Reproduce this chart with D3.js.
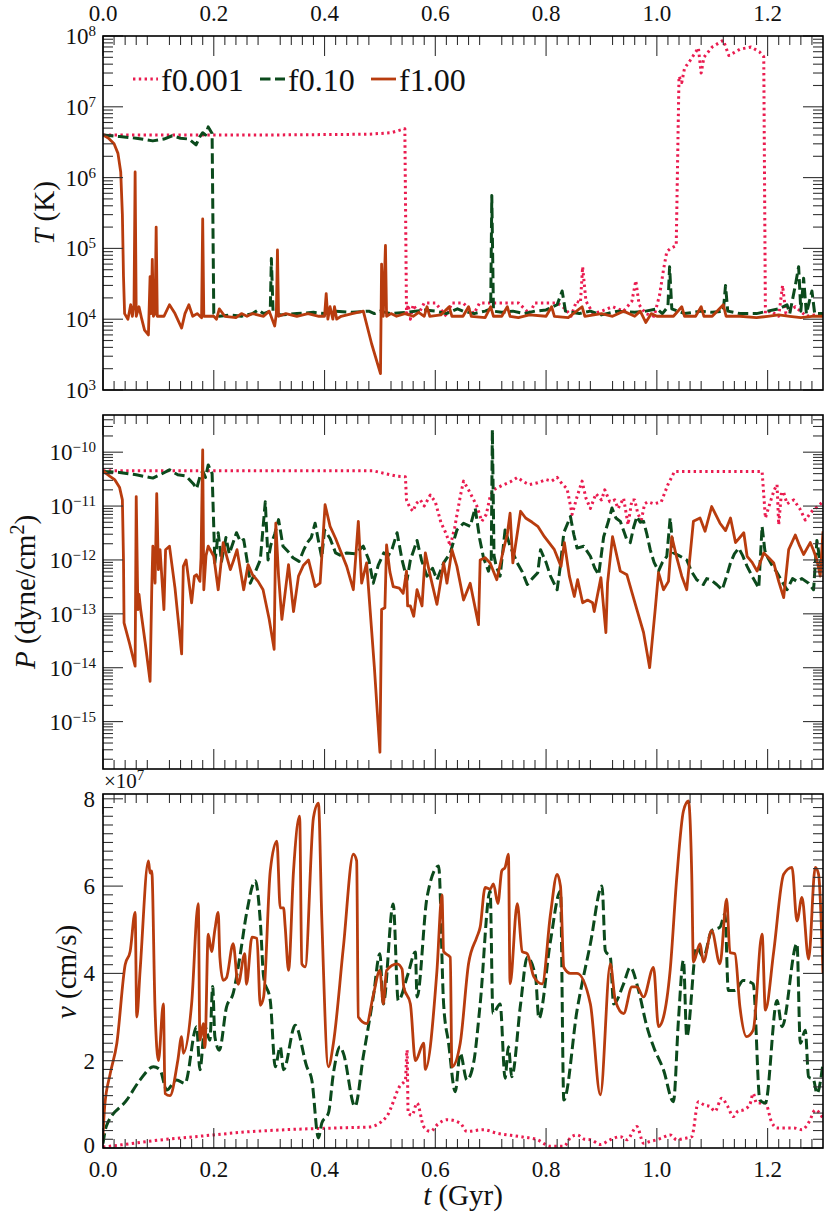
<!DOCTYPE html>
<html><head><meta charset="utf-8">
<script src="https://cdn.jsdelivr.net/npm/d3@7/dist/d3.min.js"></script>
<style>
body{margin:0;background:#fff;overflow:hidden;font-family:"Liberation Serif";}
svg{display:block}
svg text{font-family:"Liberation Serif";}
</style>
</head><body><svg id="c" width="831" height="1219"></svg>
<script>
// ---------------- data ----------------
const seriesNames = ["f0.001", "f0.10", "f1.00"];
const xTickLabels = ["0.0","0.2","0.4","0.6","0.8","1.0","1.2"];
const vTickLabels = ["0","2","4","6","8"];

// Temperature T (K) vs t (Gyr)
const T_f0001 = [[0,4.0e6],[0.1,4.0e6],[0.2,4.0e6],[0.3,4.0e6],[0.4,4.05e6],[0.48,4.1e6],[0.52,4.3e6],[0.545,4.9e6],[0.548,1.2e4],[0.551,1.6e4],[0.555,1.0e4],[0.56,1.6e4],[0.57,1.2e4],[0.58,1.7e4],[0.6,1.7e4],[0.62,1.1e4],[0.63,1.7e4],[0.65,1.7e4],[0.67,1.2e4],[0.68,1.7e4],[0.7,1.7e4],[0.75,1.7e4],[0.77,1.2e4],[0.78,1.7e4],[0.8,1.7e4],[0.82,1.7e4],[0.835,1.4e4],[0.845,1.1e4],[0.855,1.8e4],[0.862,1.7e4],[0.866,5.5e4],[0.872,1.8e4],[0.885,1.2e4],[0.9,1.3e4],[0.92,1.5e4],[0.94,1.3e4],[0.955,1.8e4],[0.962,3.5e4],[0.968,1.6e4],[0.98,1.2e4],[0.995,1.1e4],[1.005,2.2e4],[1.012,5e4],[1.018,9e4],[1.025,1.0e5],[1.035,1.1e5],[1.04,2.7e7],[1.045,2.2e7],[1.05,3.5e7],[1.06,4.5e7],[1.075,6.8e7],[1.08,3e7],[1.085,5e7],[1.1,7e7],[1.12,8.7e7],[1.13,5.3e7],[1.15,6.5e7],[1.17,7e7],[1.185,6e7],[1.193,5.1e7],[1.196,1.2e4],[1.205,1.3e4],[1.22,1.1e4],[1.227,3e4],[1.233,1.2e4],[1.25,1.5e4],[1.27,1.1e4],[1.3,1.2e4]];
const T_f010 = [[0,4.0e6],[0.03,3.8e6],[0.06,3.6e6],[0.09,3.3e6],[0.11,3.5e6],[0.125,3.9e6],[0.14,3.6e6],[0.155,3.5e6],[0.168,2.9e6],[0.175,3.8e6],[0.18,4.3e6],[0.185,4.0e6],[0.19,5.2e6],[0.197,4.2e6],[0.2,1.2e4],[0.21,1.1e4],[0.23,1.15e4],[0.25,1.1e4],[0.27,1.2e4],[0.28,1.35e4],[0.29,1.2e4],[0.302,1.3e4],[0.304,7.2e4],[0.307,1.3e4],[0.32,1.15e4],[0.35,1.2e4],[0.38,1.25e4],[0.4,1.2e4],[0.42,1.3e4],[0.45,1.25e4],[0.48,1.3e4],[0.49,1.2e4],[0.5,1.3e4],[0.52,1.2e4],[0.55,1.25e4],[0.58,1.35e4],[0.6,1.3e4],[0.62,1.2e4],[0.64,1.4e4],[0.65,1.3e4],[0.67,1.2e4],[0.69,1.3e4],[0.7,1.4e4],[0.702,5.6e5],[0.705,1.3e4],[0.72,1.25e4],[0.74,1.3e4],[0.76,1.2e4],[0.78,1.3e4],[0.8,1.35e4],[0.82,1.6e4],[0.829,2.5e4],[0.835,1.3e4],[0.86,1.2e4],[0.88,1.3e4],[0.9,1.15e4],[0.93,1.3e4],[0.96,1.25e4],[0.98,1.3e4],[1.0,1.4e4],[1.01,1.2e4],[1.02,1.5e4],[1.023,5.5e4],[1.027,1.4e4],[1.05,1.2e4],[1.08,1.3e4],[1.1,1.25e4],[1.12,1.3e4],[1.124,3e4],[1.128,1.3e4],[1.15,1.2e4],[1.18,1.2e4],[1.2,1.3e4],[1.22,1.4e4],[1.235,1.6e4],[1.24,1.2e4],[1.25,3e4],[1.256,5.5e4],[1.26,1.3e4],[1.265,3.8e4],[1.27,1.2e4],[1.28,2.5e4],[1.285,1.2e4],[1.3,1.2e4]];
const T_f100 = [[0,4.0e6],[0.01,3.6e6],[0.02,3.0e6],[0.027,2.2e6],[0.032,1.2e6],[0.035,3e5],[0.037,4e4],[0.039,1.2e4],[0.045,1.0e4],[0.05,1.6e4],[0.053,1.1e4],[0.056,1.6e4],[0.058,1.2e6],[0.06,1.1e4],[0.065,1.5e4],[0.07,1.0e4],[0.075,7e3],[0.082,6e3],[0.085,4e4],[0.087,1.2e4],[0.089,7e4],[0.091,1.1e4],[0.094,1.2e4],[0.096,2e5],[0.098,1.1e4],[0.11,1.1e4],[0.12,1.6e4],[0.13,1.2e4],[0.142,7.5e3],[0.148,1.2e4],[0.155,1.6e4],[0.162,1.1e4],[0.17,1.2e4],[0.178,1.05e4],[0.18,2.6e5],[0.182,1.1e4],[0.2,1.1e4],[0.205,1.0e4],[0.21,1.4e4],[0.22,1.1e4],[0.24,1.05e4],[0.25,1.2e4],[0.26,1.1e4],[0.27,1.2e4],[0.29,1.1e4],[0.3,1.3e4],[0.31,8e3],[0.313,1.2e4],[0.315,9.5e4],[0.317,1.1e4],[0.33,1.2e4],[0.35,1.1e4],[0.37,1.2e4],[0.39,1.1e4],[0.4,1.1e4],[0.403,2.3e4],[0.406,1.0e4],[0.41,1.5e4],[0.415,1.0e4],[0.418,1.5e4],[0.422,1.0e4],[0.43,1.1e4],[0.45,1.2e4],[0.47,1.3e4],[0.485,4.5e3],[0.501,1.7e3],[0.503,6e4],[0.506,1.1e4],[0.51,1.1e5],[0.512,1.1e4],[0.52,1.2e4],[0.53,1.1e4],[0.545,1.2e4],[0.56,1.1e4],[0.57,1.25e4],[0.58,1.1e4],[0.585,1.5e4],[0.59,1.1e4],[0.61,1.15e4],[0.625,1.5e4],[0.63,1.1e4],[0.65,1.1e4],[0.66,1.5e4],[0.665,1.1e4],[0.69,1.05e4],[0.7,1.5e4],[0.705,1.1e4],[0.72,1.1e4],[0.73,1.5e4],[0.735,1.1e4],[0.75,1.05e4],[0.77,1.15e4],[0.8,1.1e4],[0.81,1.5e4],[0.815,1.1e4],[0.84,1.05e4],[0.865,1.5e4],[0.87,1.1e4],[0.9,1.2e4],[0.92,1.1e4],[0.94,1.3e4],[0.96,1.1e4],[0.97,1.3e4],[0.98,9e3],[0.99,1.2e4],[1.0,1.1e4],[1.03,1.1e4],[1.045,1.5e4],[1.05,1.1e4],[1.07,1.1e4],[1.08,1.5e4],[1.085,1.1e4],[1.1,1.1e4],[1.12,1.6e4],[1.125,1.1e4],[1.15,1.1e4],[1.18,1.05e4],[1.2,1.1e4],[1.22,1.15e4],[1.24,1.1e4],[1.26,1.05e4],[1.28,1.1e4],[1.3,1.1e4]];

// Pressure P (dyne/cm^2)
const P_f0001 = [[0,4.5e-11],[0.2,4.5e-11],[0.4,4.5e-11],[0.488,4.5e-11],[0.51,4.0e-11],[0.53,3.6e-11],[0.546,3.5e-11],[0.548,1.3e-11],[0.551,1.1e-11],[0.555,9e-12],[0.56,8e-12],[0.565,1.1e-11],[0.573,1.3e-11],[0.58,1.0e-11],[0.591,1.6e-11],[0.6,1.2e-11],[0.61,5e-12],[0.62,3e-12],[0.627,1.8e-12],[0.635,4e-12],[0.645,1.5e-11],[0.651,2.9e-11],[0.66,2.0e-11],[0.675,1.0e-11],[0.684,5.2e-12],[0.692,7e-12],[0.699,1.5e-11],[0.705,2.0e-11],[0.72,2.4e-11],[0.735,2.8e-11],[0.748,3.4e-11],[0.76,2.8e-11],[0.77,2.5e-11],[0.785,2.7e-11],[0.8,3.1e-11],[0.81,2.9e-11],[0.82,3.4e-11],[0.83,2.5e-11],[0.838,2.1e-11],[0.847,7e-12],[0.856,1.5e-11],[0.865,2.9e-11],[0.872,1.4e-11],[0.88,9e-12],[0.89,1.7e-11],[0.9,1.3e-11],[0.906,2.0e-11],[0.915,1.2e-11],[0.924,1.3e-11],[0.93,9e-12],[0.94,1.4e-11],[0.948,4.5e-12],[0.955,1.3e-11],[0.96,1.3e-11],[0.966,7e-12],[0.972,5.5e-12],[0.978,1.1e-11],[0.984,1.2e-11],[0.995,1.1e-11],[1.008,1.2e-11],[1.02,2.5e-11],[1.032,4.4e-11],[1.1,4.4e-11],[1.19,4.4e-11],[1.196,6e-12],[1.205,1.2e-11],[1.212,2.0e-11],[1.217,2.5e-11],[1.22,4.5e-12],[1.225,1.8e-11],[1.229,1.8e-11],[1.235,1.1e-11],[1.247,1.3e-11],[1.258,9e-12],[1.268,5.5e-12],[1.28,8e-12],[1.3,1.2e-11]];
const P_f010 = [[0,4.4e-11],[0.03,4.2e-11],[0.06,3.8e-11],[0.09,3.3e-11],[0.105,3.9e-11],[0.12,4.7e-11],[0.135,3.8e-11],[0.15,3.6e-11],[0.163,2.6e-11],[0.169,2.1e-11],[0.175,3.5e-11],[0.18,4.5e-11],[0.185,3.4e-11],[0.19,5.8e-11],[0.197,4.0e-11],[0.202,8.8e-13],[0.208,3.2e-12],[0.214,9.4e-13],[0.222,2.6e-12],[0.228,1.3e-12],[0.235,2.1e-12],[0.241,3.2e-12],[0.248,2.2e-12],[0.254,2.4e-12],[0.26,1.0e-12],[0.266,3.7e-13],[0.275,6e-13],[0.284,1.0e-12],[0.293,1.2e-11],[0.298,1.0e-12],[0.303,1.9e-12],[0.31,3.0e-12],[0.317,5.6e-12],[0.325,1.8e-12],[0.335,1.4e-12],[0.343,1.1e-12],[0.354,9.4e-13],[0.362,1.5e-12],[0.369,2.1e-12],[0.376,2.6e-12],[0.383,4.8e-12],[0.39,2.0e-12],[0.395,1.1e-12],[0.40,3.6e-12],[0.41,2.5e-12],[0.42,1.35e-12],[0.43,1.2e-12],[0.44,1.35e-12],[0.455,1.3e-12],[0.47,1.8e-12],[0.48,1.0e-12],[0.488,3.7e-13],[0.497,8e-13],[0.507,1.35e-12],[0.515,1.2e-12],[0.522,1.6e-12],[0.531,3.2e-12],[0.54,1.0e-12],[0.549,4.3e-13],[0.555,1.0e-12],[0.567,2.3e-12],[0.575,1.0e-12],[0.585,5e-13],[0.595,7e-13],[0.603,4.3e-13],[0.615,8.8e-13],[0.627,1.35e-12],[0.639,3.6e-12],[0.651,4.8e-12],[0.663,4.2e-12],[0.672,9.2e-12],[0.68,2.5e-12],[0.687,1.1e-12],[0.696,6.2e-13],[0.701,1e-12],[0.703,2.6e-10],[0.706,1.2e-12],[0.71,7.6e-13],[0.717,5e-13],[0.726,3.6e-12],[0.735,1.8e-12],[0.748,8.8e-13],[0.757,6e-13],[0.766,3.5e-13],[0.775,4.5e-13],[0.785,5.8e-13],[0.79,1.55e-12],[0.8,9e-13],[0.808,5e-13],[0.82,2.8e-13],[0.826,8e-13],[0.832,3.2e-12],[0.844,6.4e-12],[0.85,3e-12],[0.856,1.66e-12],[0.868,1.8e-12],[0.88,1.17e-12],[0.888,7e-13],[0.895,5.3e-13],[0.904,2.7e-12],[0.912,5e-12],[0.919,9.2e-12],[0.926,6e-12],[0.934,5.2e-12],[0.945,2.5e-12],[0.952,2.1e-12],[0.958,4e-12],[0.964,6.4e-12],[0.97,5e-12],[0.976,5.2e-12],[0.982,3e-12],[0.988,1.55e-12],[0.995,9e-13],[1.003,6.2e-13],[1.01,9e-13],[1.018,1.17e-12],[1.024,6e-12],[1.03,1.35e-12],[1.04,1.2e-12],[1.054,1.0e-12],[1.063,6e-13],[1.072,4.3e-13],[1.084,3.5e-13],[1.09,4.5e-13],[1.097,4.3e-13],[1.108,3.5e-13],[1.118,2.8e-13],[1.126,5e-13],[1.133,8.8e-13],[1.14,1.3e-12],[1.148,1.66e-12],[1.155,1.2e-12],[1.163,7.6e-13],[1.172,5e-13],[1.184,3e-13],[1.19,4.2e-12],[1.195,1.5e-12],[1.199,1.17e-12],[1.208,8e-13],[1.217,5.8e-13],[1.226,4e-13],[1.235,2.8e-13],[1.245,4.5e-13],[1.253,4e-13],[1.262,4.5e-13],[1.274,3.7e-13],[1.283,2.8e-13],[1.289,2.3e-12],[1.295,9e-13],[1.3,1.17e-12]];
const P_f100 = [[0,4.5e-11],[0.012,3.6e-11],[0.021,3.1e-11],[0.03,2.2e-11],[0.035,1.3e-11],[0.037,1e-12],[0.038,6.8e-14],[0.048,2.8e-14],[0.058,1.07e-14],[0.06,1.5e-11],[0.063,1.2e-13],[0.065,2.3e-13],[0.068,1.2e-13],[0.076,3e-14],[0.085,5.6e-15],[0.088,2.8e-13],[0.09,1.8e-12],[0.094,3.7e-13],[0.097,1.7e-11],[0.1,6.6e-13],[0.103,1.55e-12],[0.11,1.2e-13],[0.113,1.55e-12],[0.12,1.8e-12],[0.13,3e-13],[0.142,1.8e-14],[0.145,7.6e-13],[0.15,1.0e-12],[0.16,1.6e-13],[0.165,5e-13],[0.169,5.3e-13],[0.175,4e-13],[0.177,1.1e-12],[0.18,1.1e-10],[0.182,2.8e-13],[0.186,1.2e-12],[0.19,1.8e-12],[0.2,1.17e-12],[0.208,2.8e-13],[0.217,2.1e-12],[0.223,1.2e-12],[0.23,6.6e-13],[0.236,1.0e-12],[0.242,1.55e-12],[0.254,2.8e-13],[0.262,8.2e-13],[0.27,5.3e-13],[0.28,4e-13],[0.289,2.8e-13],[0.3,8e-14],[0.309,2.2e-14],[0.312,4.8e-12],[0.317,5e-13],[0.323,7.9e-14],[0.335,8.2e-13],[0.344,1.1e-13],[0.353,5e-13],[0.362,8e-13],[0.371,1.0e-12],[0.383,3.2e-13],[0.392,3.7e-13],[0.401,1.06e-11],[0.41,4.2e-12],[0.42,2.5e-12],[0.428,1.55e-12],[0.44,7.6e-13],[0.452,2.8e-13],[0.461,5.2e-12],[0.467,3.7e-13],[0.476,8.8e-13],[0.49,1e-14],[0.5,2.7e-16],[0.503,1.2e-13],[0.509,1.3e-13],[0.512,1.9e-12],[0.518,6e-13],[0.524,3.2e-13],[0.535,3e-13],[0.542,2.4e-13],[0.548,6.2e-13],[0.55,1.4e-13],[0.555,1.4e-13],[0.561,9e-14],[0.567,2.8e-13],[0.576,1.4e-13],[0.582,1.35e-12],[0.591,5e-13],[0.603,1.5e-13],[0.615,8.8e-13],[0.621,3.7e-13],[0.63,1.55e-12],[0.639,7.6e-13],[0.651,1.8e-13],[0.663,3.7e-13],[0.678,6.3e-14],[0.681,1e-12],[0.69,1.1e-12],[0.699,8.8e-13],[0.711,4.3e-13],[0.723,1.55e-12],[0.73,3e-12],[0.735,7.4e-12],[0.74,8.8e-13],[0.754,8e-12],[0.763,6e-12],[0.775,5e-12],[0.785,4.2e-12],[0.797,2.7e-12],[0.815,1.55e-12],[0.827,7.6e-13],[0.833,2.1e-12],[0.842,5e-13],[0.851,2.1e-13],[0.857,4.3e-13],[0.866,1.6e-13],[0.875,1.8e-13],[0.884,1.6e-13],[0.887,1.1e-13],[0.899,4.7e-13],[0.908,4.5e-14],[0.911,3.7e-13],[0.92,2.7e-12],[0.934,6.2e-13],[0.946,5.3e-13],[0.955,2.5e-13],[0.964,1.2e-13],[0.976,4.5e-14],[0.987,1e-14],[0.997,1.2e-13],[1.003,5.8e-13],[1.012,2.8e-13],[1.021,4e-13],[1.027,2.7e-12],[1.036,1.1e-12],[1.045,5e-13],[1.054,2.8e-13],[1.066,5.2e-12],[1.078,6e-12],[1.087,3.4e-12],[1.099,9.8e-12],[1.114,4.8e-12],[1.124,3.5e-12],[1.133,6e-12],[1.142,2.1e-12],[1.157,3.2e-12],[1.163,1.17e-12],[1.172,9e-13],[1.181,6.2e-13],[1.193,1.35e-12],[1.202,1.1e-12],[1.211,8.8e-13],[1.22,4e-13],[1.229,2e-13],[1.238,1.55e-12],[1.25,2.9e-12],[1.258,1.8e-12],[1.265,1.26e-12],[1.277,2.1e-12],[1.283,1.5e-12],[1.289,1e-12],[1.295,5e-13],[1.3,3.4e-12]];

// Velocity v (units of 1e7 cm/s)
const V_f0001 = [[0,0.02],[0.05,0.1],[0.1,0.18],[0.15,0.24],[0.2,0.3],[0.25,0.36],[0.3,0.4],[0.35,0.43],[0.4,0.45],[0.45,0.47],[0.48,0.48],[0.512,0.72],[0.537,1.44],[0.546,1.56],[0.549,2.24],[0.551,0.8],[0.558,0.75],[0.567,1.03],[0.579,0.49],[0.591,0.38],[0.605,0.55],[0.621,0.65],[0.645,0.57],[0.657,0.38],[0.687,0.42],[0.711,0.34],[0.754,0.26],[0.784,0.19],[0.808,0.04],[0.832,0.04],[0.845,0.25],[0.856,0.3],[0.87,0.2],[0.88,0.19],[0.898,0.08],[0.916,0.19],[0.934,0.26],[0.946,0.19],[0.964,0.49],[0.976,0.11],[0.988,0.15],[1.0,0.19],[1.012,0.25],[1.024,0.3],[1.036,0.19],[1.05,0.22],[1.063,0.26],[1.075,1.06],[1.086,0.98],[1.096,0.95],[1.105,0.84],[1.117,1.14],[1.128,0.95],[1.138,0.72],[1.147,0.85],[1.156,0.87],[1.168,1.0],[1.174,1.25],[1.18,1.03],[1.196,1.03],[1.207,0.6],[1.217,0.46],[1.235,0.46],[1.247,0.46],[1.262,0.42],[1.275,0.6],[1.286,0.87],[1.3,0.68]];
const V_f010 = [[0,0.1],[0.006,0.5],[0.043,1.1],[0.067,1.56],[0.091,1.86],[0.103,1.79],[0.115,1.33],[0.133,1.56],[0.148,1.48],[0.169,2.78],[0.175,1.79],[0.184,2.78],[0.193,2.47],[0.198,3.7],[0.202,2.55],[0.21,2.24],[0.223,3.23],[0.235,3.54],[0.247,4.37],[0.259,5.36],[0.275,6.12],[0.284,5.2],[0.29,3.92],[0.302,3.38],[0.311,1.86],[0.32,2.32],[0.326,1.79],[0.347,2.81],[0.368,1.86],[0.377,1.56],[0.389,0.23],[0.395,0.57],[0.407,0.8],[0.416,1.71],[0.428,2.32],[0.434,2.17],[0.455,0.95],[0.47,2.1],[0.488,3.46],[0.5,4.45],[0.506,3.3],[0.524,5.59],[0.533,3.38],[0.551,4.0],[0.564,4.49],[0.567,3.46],[0.585,5.74],[0.606,6.46],[0.615,3.3],[0.624,2.4],[0.636,1.29],[0.645,2.17],[0.657,1.56],[0.669,1.94],[0.681,3.3],[0.699,5.89],[0.704,3.08],[0.717,3.3],[0.726,1.6],[0.732,2.32],[0.738,1.63],[0.754,3.3],[0.766,4.37],[0.781,3.92],[0.787,2.97],[0.808,4.75],[0.826,5.89],[0.832,1.1],[0.856,3.16],[0.88,4.68],[0.901,6.0],[0.907,4.52],[0.916,4.37],[0.922,3.3],[0.94,3.76],[0.952,4.14],[0.967,3.61],[0.982,2.78],[0.994,2.32],[1.012,1.79],[1.03,1.06],[1.039,2.93],[1.048,4.3],[1.054,2.55],[1.072,4.6],[1.084,4.37],[1.099,4.98],[1.114,5.06],[1.123,5.36],[1.129,3.61],[1.141,3.61],[1.156,3.84],[1.174,3.76],[1.186,1.1],[1.196,1.03],[1.217,3.38],[1.226,2.78],[1.253,4.68],[1.259,2.4],[1.268,2.7],[1.274,1.63],[1.283,1.56],[1.289,1.25],[1.3,1.94]];
const V_f100 = [[0,0.3],[0.003,0.95],[0.013,1.7],[0.025,2.4],[0.04,4.2],[0.049,4.5],[0.058,5.4],[0.061,3.0],[0.067,4.07],[0.082,6.58],[0.085,6.3],[0.088,6.35],[0.094,3.16],[0.1,2.0],[0.109,3.3],[0.112,1.25],[0.121,1.2],[0.135,2.0],[0.142,2.55],[0.145,2.17],[0.16,3.3],[0.172,5.6],[0.175,2.47],[0.181,2.85],[0.184,2.3],[0.19,4.9],[0.196,4.5],[0.202,5.0],[0.208,5.4],[0.211,4.37],[0.217,3.84],[0.223,3.9],[0.235,4.68],[0.244,3.75],[0.256,4.45],[0.259,3.75],[0.269,4.83],[0.278,4.8],[0.284,3.27],[0.29,3.46],[0.302,6.35],[0.314,7.03],[0.32,5.5],[0.326,5.5],[0.329,5.06],[0.335,4.07],[0.344,6.35],[0.355,7.6],[0.359,4.22],[0.365,4.15],[0.38,7.57],[0.389,7.9],[0.395,5.28],[0.407,1.86],[0.416,2.4],[0.434,4.6],[0.452,6.73],[0.458,6.58],[0.461,3.0],[0.476,2.85],[0.488,3.5],[0.5,4.07],[0.506,3.3],[0.512,4.07],[0.531,4.22],[0.54,4.1],[0.543,3.69],[0.555,3.3],[0.564,2.0],[0.579,2.4],[0.582,1.8],[0.603,4.07],[0.612,5.8],[0.615,4.5],[0.627,4.37],[0.63,1.86],[0.645,2.4],[0.66,4.22],[0.675,4.83],[0.681,5.06],[0.69,5.97],[0.699,5.93],[0.705,6.05],[0.713,5.6],[0.72,6.35],[0.726,6.43],[0.732,6.73],[0.735,3.76],[0.748,5.6],[0.757,4.5],[0.766,4.45],[0.778,3.92],[0.793,3.76],[0.808,5.36],[0.82,6.27],[0.826,6.0],[0.832,4.14],[0.844,4.0],[0.856,4.0],[0.88,3.3],[0.898,1.22],[0.916,4.22],[0.925,3.38],[0.94,3.08],[0.955,3.69],[0.964,3.69],[0.976,3.46],[0.994,4.14],[1.003,2.78],[1.012,3.0],[1.024,4.07],[1.036,6.2],[1.048,7.72],[1.057,7.95],[1.063,6.27],[1.066,4.26],[1.078,4.68],[1.084,4.26],[1.099,4.98],[1.114,4.22],[1.126,5.7],[1.132,4.48],[1.141,4.45],[1.15,3.23],[1.162,2.55],[1.174,2.7],[1.19,4.9],[1.196,3.16],[1.211,4.5],[1.229,6.27],[1.244,6.43],[1.253,5.2],[1.262,5.74],[1.274,4.33],[1.286,6.43],[1.292,6.27],[1.3,4.0]];

// ---------------- drawing ----------------
const FONT = "Liberation Serif";
const svg = d3.select("#c");
const L = 103, R = 823;
const x = d3.scaleLinear().domain([0, 1.3]).range([L, R]);
const panels = [
  {key:"T", top:36, bot:390, y: d3.scaleLog().domain([1e3, 1e8]).range([390, 36]), data:[T_f0001,T_f010,T_f100], log:true, majors:[3,4,5,6,7,8], curve:d3.curveLinear},
  {key:"P", top:415, bot:769, y: d3.scaleLog().domain([Math.pow(10,-15.88), Math.pow(10,-9.31)]).range([769, 415]), data:[P_f0001,P_f010,P_f100], log:true, majors:[-15,-14,-13,-12,-11,-10], curve:d3.curveLinear},
  {key:"v", top:794, bot:1148, y: d3.scaleLinear().domain([0, 8.11]).range([1148, 794]), data:[V_f0001,V_f010,V_f100], log:false, curve:d3.curveMonotoneX}
];
const styles = [
  {color:"#ea1c50", width:3, dash:"2.4,3.4"},
  {color:"#0b4a1c", width:3, dash:"10.5,4.5"},
  {color:"#b83c0e", width:2.8, dash:null}
];
const tickColor = "#333";

const xMajor = d3.range(0, 1.21, 0.2);
const xMinor = d3.range(0, 131).filter(i => i % 10 !== 0 && i % 2 === 0).map(i => i / 100);

function txt(sel) {
  return sel.append("text").attr("font-family", FONT).style("font-family", FONT).attr("fill", "#111");
}

panels.forEach((p, pi) => {
  const g = svg.append("g");
  const clipId = "clip" + pi;
  svg.append("clipPath").attr("id", clipId).append("rect")
    .attr("x", L).attr("y", p.top).attr("width", R - L).attr("height", p.bot - p.top);

  const line = d3.line().x(d => x(d[0])).y(d => p.y(d[1])).curve(p.curve);
  const sg = g.append("g").attr("clip-path", `url(#${clipId})`);
  p.data.forEach((ser, i) => {
    const st = styles[i];
    sg.append("path").datum(ser).attr("d", line)
      .attr("fill", "none").attr("stroke", st.color).attr("stroke-width", st.width)
      .attr("stroke-linejoin", "round")
      .attr("stroke-dasharray", st.dash);
  });

  const tg = g.append("g").attr("stroke", tickColor).attr("stroke-width", 1.1);
  xMajor.forEach(v => {
    tg.append("line").attr("x1", x(v)).attr("x2", x(v)).attr("y1", p.top).attr("y2", p.top + 20);
    tg.append("line").attr("x1", x(v)).attr("x2", x(v)).attr("y1", p.bot).attr("y2", p.bot - 20);
  });
  xMinor.forEach(v => {
    tg.append("line").attr("x1", x(v)).attr("x2", x(v)).attr("y1", p.top).attr("y2", p.top + 9);
    tg.append("line").attr("x1", x(v)).attr("x2", x(v)).attr("y1", p.bot).attr("y2", p.bot - 9);
  });

  let yMaj = [], yMin = [];
  if (p.log) {
    const [d0, d1] = p.y.domain();
    const e0 = Math.floor(Math.log10(d0)), e1 = Math.ceil(Math.log10(d1));
    for (let e = e0; e <= e1; e++) {
      for (let m = 1; m <= 9; m++) {
        const v = m * Math.pow(10, e);
        if (v < d0 * 0.999 || v > d1 * 1.001) continue;
        if (m === 1) yMaj.push(v); else yMin.push(v);
      }
    }
  } else {
    yMaj = [0, 2, 4, 6, 8];
    yMin = d3.range(0, 82, 2).filter(i => i % 20 !== 0).map(i => i / 10);
  }
  yMaj.forEach(v => {
    const yy = p.y(v);
    tg.append("line").attr("x1", L).attr("x2", L + 20).attr("y1", yy).attr("y2", yy);
    tg.append("line").attr("x1", R).attr("x2", R - 20).attr("y1", yy).attr("y2", yy);
  });
  yMin.forEach(v => {
    const yy = p.y(v);
    tg.append("line").attr("x1", L).attr("x2", L + 10).attr("y1", yy).attr("y2", yy);
    tg.append("line").attr("x1", R).attr("x2", R - 10).attr("y1", yy).attr("y2", yy);
  });

  if (p.log) {
    p.majors.forEach(e => {
      const v = Math.pow(10, e);
      const t = txt(g).attr("x", 96).attr("y", p.y(v) + 8)
        .attr("text-anchor", "end").attr("font-size", 23);
      t.append("tspan").text("10");
      t.append("tspan").attr("dy", -8).attr("font-size", 15).text(e < 0 ? "\u2212" + (-e) : String(e));
    });
  } else {
    vTickLabels.forEach(s => {
      txt(g).attr("x", 95).attr("y", p.y(+s) + (s === "0" ? 5 : 8)).attr("text-anchor", "end")
        .attr("font-size", 23).text(s);
    });
  }

  g.append("rect").attr("x", L).attr("y", p.top).attr("width", R - L).attr("height", p.bot - p.top)
    .attr("fill", "none").attr("stroke", "#000").attr("stroke-width", 1.6);
});

xTickLabels.forEach(s => {
  txt(svg).attr("x", x(+s)).attr("y", 21).attr("text-anchor", "middle").attr("font-size", 23).text(s);
  txt(svg).attr("x", x(+s)).attr("y", 1177).attr("text-anchor", "middle").attr("font-size", 23).text(s);
});

const mult = txt(svg).attr("x", 104).attr("y", 788).attr("font-size", 21);
mult.append("tspan").text("\u00d710");
mult.append("tspan").attr("dy", -8).attr("font-size", 15).text("7");

function yLabel(cx, cy, parts) {
  const t = txt(svg).attr("transform", `translate(${cx},${cy}) rotate(-90)`)
    .attr("text-anchor", "middle").attr("font-size", 29);
  parts.forEach(pt => {
    const ts = t.append("tspan").text(pt.s);
    if (pt.i) ts.attr("font-style", "italic");
    if (pt.sup) ts.attr("dy", -11).attr("font-size", 20);
    if (pt.down) ts.attr("dy", 11);
  });
}
yLabel(54, 213, [{s:"T", i:true}, {s:" (K)"}]);
yLabel(35, 592, [{s:"P", i:true}, {s:" (dyne/cm"}, {s:"2", sup:true}, {s:")", down:true}]);
yLabel(76, 972, [{s:"v", i:true}, {s:" (cm/s)"}]);

const xl = txt(svg).attr("x", 463).attr("y", 1205).attr("text-anchor", "middle").attr("font-size", 29);
xl.append("tspan").attr("font-style", "italic").text("t");
xl.append("tspan").text(" (Gyr)");

const legX = [133, 260, 371];
seriesNames.forEach((name, i) => {
  const st = styles[i];
  svg.append("line").attr("x1", legX[i]).attr("x2", legX[i] + 25).attr("y1", 79).attr("y2", 79)
    .attr("stroke", st.color).attr("stroke-width", st.width).attr("stroke-dasharray", st.dash);
  txt(svg).attr("x", legX[i] + 28).attr("y", 91).attr("font-size", 32).text(name);
});
</script></body></html>
